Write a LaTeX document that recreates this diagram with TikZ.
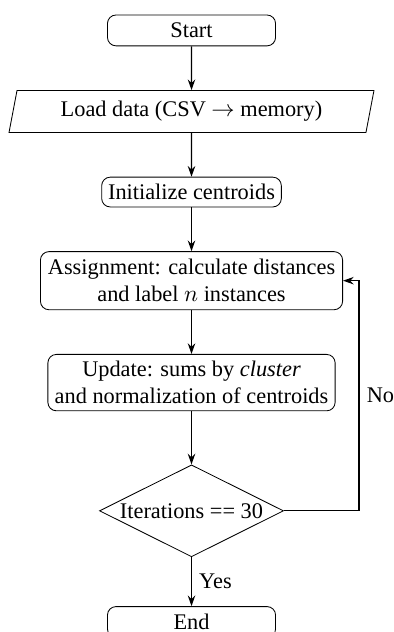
\documentclass[tikz,border=0pt]{standalone}
\usepackage{fontspec}
\setmainfont{Liberation Serif}
\usetikzlibrary{arrows.meta, positioning, shapes.geometric}

\tikzset{
  terminal/.style={draw, rounded corners=4pt, minimum width=79pt, minimum height=14.5pt, inner sep=2pt},
  io/.style={draw, trapezium, trapezium left angle=72, trapezium right angle=108, trapezium stretches body, minimum width=171.5pt, minimum height=19.7pt, inner sep=1pt},
  process/.style={draw, rounded corners=4pt, align=center, inner xsep=3pt, inner ysep=2.2pt},
  decision/.style={draw, diamond, aspect=2, minimum width=86.5pt, minimum height=43.2pt, inner sep=0pt},
  flow/.style={-{Stealth[length=5pt, width=3.5pt]}, semithick}
}

\begin{document}
\begin{tikzpicture}[node distance=20.6pt, every node/.style={font=\fontsize{10.5}{12.7}\selectfont}]
    % Rahmen
    \useasboundingbox (-90pt,14.3pt) rectangle (94.7pt,-282.7pt);

    % Knoten
    \node[terminal] (start) at (0,0) {Start};
    \node[io, below=of start] (load) {Load data (CSV $\rightarrow$ memory)};
    \node[process, below=of load, minimum height=14pt] (init) {Initialize centroids};
    \node[process, below=of init, minimum width=142pt, minimum height=27.3pt] (assign) {Assignment: calculate distances\\and label $n$ instances};
    \node[process, below=of assign, minimum width=135pt, minimum height=26.5pt] (update) {Update: sums by \textit{cluster}\\and normalization of centroids};
    \node[decision, below=25pt of update] (cond) {Iterations == 30};
    \node[terminal, below=23pt of cond] (stop) {End};

    % Pfeile
    \draw[flow] (start) -- (load);
    \draw[flow] (load) -- (init);
    \draw[flow] (init) -- (assign);
    \draw[flow] (assign) -- (update);
    \draw[flow] (update) -- (cond);
    \draw[flow] (cond) -- node[right] {Yes} (stop);
    \draw[flow] (cond.east) -- ++(35.3pt,0) |- node[pos=0.25, right] {No} (assign.east);
\end{tikzpicture}
\end{document}
